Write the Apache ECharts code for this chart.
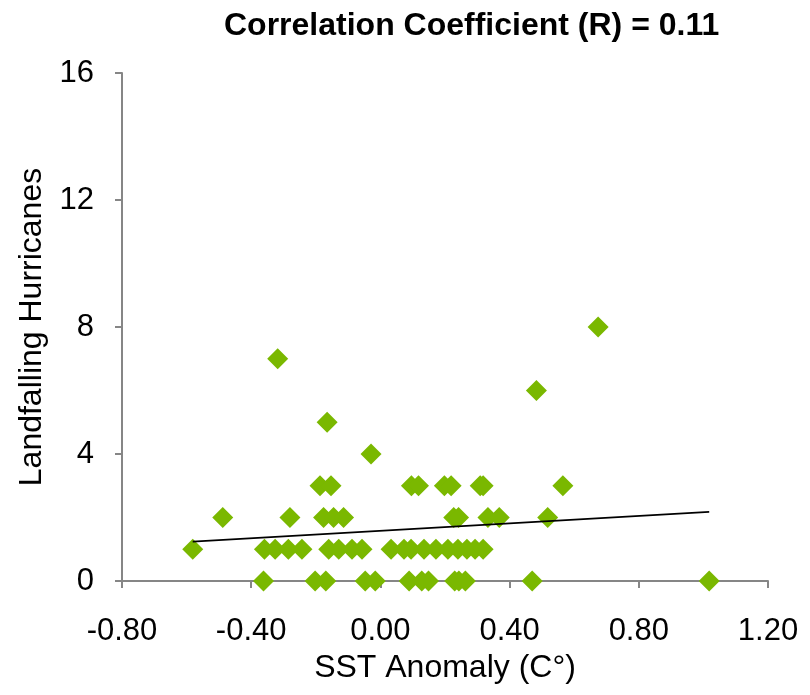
<!DOCTYPE html>
<html>
<head>
<meta charset="utf-8">
<script src="https://cdn.jsdelivr.net/npm/echarts@6/dist/echarts.min.js"></script>
<style>
html,body{margin:0;padding:0;background:#fff;}
#chart{width:810px;height:695px;}
</style>
</head>
<body>
<div id="chart"></div>
<script>
// SST anomaly (x) grouped by number of landfalling hurricanes (y)
const hur0 = [-0.362, -0.202, -0.169, -0.047, -0.016, 0.089, 0.128, 0.149, 0.230, 0.243, 0.263, 0.470, 1.018];
const hur1 = [-0.581, -0.359, -0.326, -0.285, -0.243, -0.160, -0.129, -0.088, -0.057, 0.033, 0.073, 0.095, 0.135, 0.172, 0.209, 0.240, 0.268, 0.293, 0.318];
const hur2 = [-0.488, -0.280, -0.176, -0.145, -0.114, 0.227, 0.242, 0.333, 0.368, 0.518];
const hur3 = [-0.187, -0.153, 0.096, 0.118, 0.198, 0.219, 0.309, 0.318, 0.565];
const hur4 = [-0.029];
const hur5 = [-0.165];
const hur6 = [0.483];
const hur7 = [-0.318];
const hur8 = [0.674];
const trendX = [-0.581, 1.018];
const trendY = [1.24, 2.18];
const xTicks = [-0.8, -0.4, 0, 0.4, 0.8, 1.2];
const yTicks = [0, 4, 8, 12, 16];

const groups = [hur0, hur1, hur2, hur3, hur4, hur5, hur6, hur7, hur8];
const points = [];
groups.forEach((arr, y) => arr.forEach(x => points.push([x, y])));
const trend = trendX.map((x, i) => [x, trendY[i]]);

const FONT = 'Liberation Sans, Arial, sans-serif';
const chart = echarts.init(document.getElementById('chart'), null, {renderer: 'canvas'});
chart.setOption({
  animation: false,
  backgroundColor: '#ffffff',
  title: {
    text: 'Correlation Coefficient (R) = 0.11',
    left: 219, top: 5,
    textStyle: {fontFamily: FONT, fontWeight: 'bold', fontSize: 32, color: '#000'}
  },
  grid: {left: 122, right: 42, top: 73, bottom: 114, containLabel: false},
  xAxis: {
    type: 'value', min: -0.8, max: 1.2, interval: 0.4,
    name: 'SST Anomaly (C°)', nameLocation: 'middle', nameGap: 70,
    nameTextStyle: {fontFamily: FONT, fontSize: 32, color: '#000'},
    axisLine: {show: true, onZero: false, lineStyle: {color: '#868686', width: 2}},
    axisTick: {show: true, inside: false, length: 7, lineStyle: {color: '#868686', width: 2}},
    axisLabel: {fontFamily: FONT, fontSize: 31, color: '#000', margin: 35,
      formatter: v => xTicks.some(t => Math.abs(t - v) < 1e-9) ? v.toFixed(2) : ''},
    splitLine: {show: false}
  },
  yAxis: {
    type: 'value', min: 0, max: 16, interval: 4,
    name: 'Landfalling Hurricanes', nameLocation: 'middle', nameGap: 56,
    nameTextStyle: {fontFamily: FONT, fontSize: 32, color: '#000'},
    axisLine: {show: true, onZero: false, lineStyle: {color: '#868686', width: 2}},
    axisTick: {show: true, inside: false, length: 7, lineStyle: {color: '#868686', width: 2}},
    axisLabel: {fontFamily: FONT, fontSize: 31, color: '#000', margin: 28,
      formatter: v => yTicks.includes(v) ? String(v) : ''},
    splitLine: {show: false}
  },
  series: [
    {
      type: 'scatter', data: points, symbol: 'diamond', symbolSize: 21,
      itemStyle: {color: '#7AB800', opacity: 1}, z: 3
    },
    {
      type: 'line', data: trend, symbol: 'none', showSymbol: false,
      lineStyle: {color: '#000', width: 1.8}, z: 4
    }
  ]
});
</script>
</body>
</html>
